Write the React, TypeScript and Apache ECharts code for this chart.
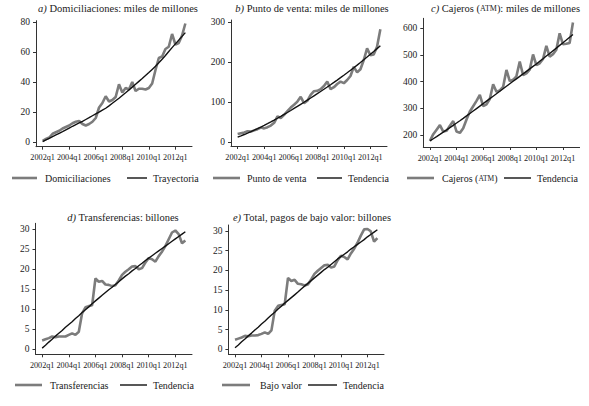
import { useEffect, useRef } from "react";
import * as echarts from "echarts";

// Quarter index 0 = 2002q1 ... 43 = 2012q4
const tickQuarters = [0, 8, 16, 24, 32, 40];
const tickLabels = ["2002q1", "2004q1", "2006q1", "2008q1", "2010q1", "2012q1"];

const domiciliaciones = [0.8, 2, 3, 5.5, 6.5, 7.5, 9, 10, 11, 12.5, 13.5, 14, 12, 11, 12, 13.5, 16, 23, 26, 30.5, 27, 28, 30, 38.5, 33, 36, 35, 40, 34, 35.5, 35.5, 35, 36, 39, 48, 56, 57, 62, 63.5, 72, 65, 66, 71, 79];
const trayectoria = [0.3, 1.4, 2.5, 3.6, 4.7, 5.8, 6.9, 8.1, 9.3, 10.5, 11.6, 12.7, 13.8, 15.0, 16.2, 17.5, 18.7, 19.9, 21.2, 22.5, 24.1, 25.8, 27.5, 29.2, 31.0, 32.8, 34.7, 36.6, 38.5, 40.4, 42.3, 44.3, 46.3, 48.4, 50.5, 52.8, 55.2, 57.7, 60.3, 62.9, 65.4, 67.9, 70.4, 72.9];

const puntoVenta = [20, 22, 24, 27, 26, 29, 32, 36, 34, 37, 41, 48, 64, 60, 68, 77, 86, 93, 101, 113, 97, 103, 118, 127, 128, 132, 140, 151, 132, 137, 145, 151, 147, 155, 165, 188, 174, 182, 205, 234, 217, 219, 238, 282];
const tendenciaVenta = [12.0, 15.3, 18.7, 22.2, 25.8, 29.5, 33.4, 37.4, 41.6, 45.9, 50.3, 54.8, 59.4, 64.1, 68.9, 73.8, 78.8, 83.9, 89.0, 94.2, 99.4, 104.7, 110.0, 115.4, 120.8, 126.3, 131.8, 137.4, 143.1, 148.9, 154.8, 160.8, 166.9, 173.1, 179.4, 185.8, 192.3, 198.9, 205.6, 212.4, 219.3, 226.3, 233.4, 240.6];

const cajeros = [178, 203, 220, 237, 213, 216, 235, 252, 213, 208, 225, 258, 288, 308, 328, 350, 308, 315, 335, 390, 362, 367, 380, 444, 402, 407, 420, 475, 425, 431, 445, 502, 462, 469, 485, 534, 494, 503, 520, 581, 540, 542, 545, 622];
const tendenciaCajeros = [178, 186, 194.1, 202.3, 210.6, 219.0, 227.5, 236.1, 244.8, 253.6, 262.5, 271.5, 280.6, 289.8, 299.0, 308.3, 317.6, 326.9, 336.2, 345.5, 354.8, 364.1, 373.4, 382.7, 392.0, 401.3, 410.6, 419.9, 429.2, 438.5, 447.8, 457.1, 466.4, 476.2, 486.0, 495.9, 505.8, 515.8, 525.8, 535.9, 546.0, 556.1, 566.3, 576.5];

const transferencias = [2.2, 2.5, 2.8, 3.2, 3.0, 3.2, 3.2, 3.2, 3.6, 4.0, 3.6, 4.4, 9.0, 10.5, 10.8, 11.0, 17.7, 16.9, 17.1, 16.2, 16.1, 15.8, 16.0, 17.2, 18.6, 19.4, 20.0, 20.7, 20.8, 20.0, 20.3, 21.7, 22.8, 22.5, 21.9, 23.3, 24.4, 25.8, 27.5, 29.2, 29.7, 28.8, 26.5, 27.2];
const tendenciaTransf = [0.3, 1.0, 1.8, 2.5, 3.3, 4.0, 4.7, 5.5, 6.2, 6.9, 7.7, 8.4, 9.2, 9.9, 10.6, 11.4, 12.1, 12.8, 13.5, 14.2, 14.9, 15.5, 16.2, 16.9, 17.6, 18.3, 18.9, 19.6, 20.2, 20.9, 21.5, 22.2, 22.8, 23.4, 24.0, 24.6, 25.2, 25.8, 26.4, 27.0, 27.6, 28.2, 28.8, 29.4];

const bajoValor = [2.4, 2.7, 3.0, 3.4, 3.3, 3.5, 3.5, 3.6, 3.9, 4.3, 3.9, 4.8, 9.8, 11.0, 11.2, 11.4, 18.1, 17.3, 17.6, 16.6, 16.5, 16.2, 16.4, 17.7, 19.1, 19.9, 20.6, 21.3, 21.4, 20.7, 21.0, 22.6, 23.7, 23.4, 22.8, 24.3, 25.5, 27.0, 28.8, 30.4, 30.5, 29.9, 27.3, 28.2];
const tendenciaBajo = [0.4, 1.1, 1.9, 2.6, 3.4, 4.1, 4.9, 5.6, 6.4, 7.1, 7.9, 8.7, 9.4, 10.2, 10.9, 11.7, 12.4, 13.1, 13.8, 14.5, 15.3, 16.0, 16.7, 17.4, 18.1, 18.8, 19.5, 20.2, 20.8, 21.5, 22.2, 22.9, 23.5, 24.1, 24.7, 25.4, 26.0, 26.6, 27.2, 27.8, 28.5, 29.1, 29.7, 30.3];

const FONT = "Liberation Serif, serif";
const GRAY = "#7c7c7c";
const BLACK = "#111111";
const AXIS = "#333333";
const TEXT = "#222222";

const panels = [
  {
    title: "{it|a)} Domiciliaciones: miles de millones", titleX: 118, titleY: 8,
    grid: { left: 36, top: 20.7, width: 156, height: 126 }, yMin: -3.13, yMax: 80.87, yTicks: [0, 20, 40, 60, 80],
    main: domiciliaciones, mainName: "Domiciliaciones", trend: trayectoria, trendName: "Trayectoria",
    legendY: 178, legend: [12, 37, 45, 127, 147, 153],
  },
  {
    title: "{it|b)} Punto de venta: miles de millones", titleX: 312, titleY: 8,
    grid: { left: 231, top: 20, width: 156, height: 126 }, yMin: -10, yMax: 305, yTicks: [0, 100, 200, 300],
    main: puntoVenta, mainName: "Punto de venta", trend: tendenciaVenta, trendName: "Tendencia",
    legendY: 178, legend: [213, 240, 247, 317, 342, 348],
  },
  {
    title: "{it|c)} Cajeros ({sc|ATM}): miles de millones", titleX: 505.5, titleY: 8,
    grid: { left: 423.3, top: 18.3, width: 156.3, height: 128.7 }, yMin: 155, yMax: 637.5, yTicks: [200, 300, 400, 500, 600],
    main: cajeros, mainName: "Cajeros ({sc|ATM})", trend: tendenciaCajeros, trendName: "Tendencia",
    legendY: 178, legend: [407, 434, 442, 504, 531, 537],
  },
  {
    title: "{it|d)} Transferencias: billones", titleX: 123, titleY: 217,
    grid: { left: 35.5, top: 223.3, width: 156.5, height: 131 }, yMin: -1.25, yMax: 31.5, yTicks: [0, 5, 10, 15, 20, 25, 30],
    main: transferencias, mainName: "Transferencias", trend: tendenciaTransf, trendName: "Tendencia",
    legendY: 385, legend: [15, 42, 50, 120, 147, 153],
  },
  {
    title: "{it|e)} Total, pagos de bajo valor: billones", titleX: 312, titleY: 217,
    grid: { left: 228.4, top: 225, width: 155.6, height: 129.3 }, yMin: -1.27, yMax: 31.5, yTicks: [0, 5, 10, 15, 20, 25, 30],
    main: bajoValor, mainName: "Bajo valor", trend: tendenciaBajo, trendName: "Tendencia",
    legendY: 385, legend: [222, 250, 260, 308, 337, 343],
  },
];

const rich = {
  it: { fontStyle: "italic", fontFamily: FONT, fontSize: 10.5, fill: TEXT },
  sc: { fontFamily: FONT, fontSize: 8, fill: TEXT },
};
const legendRich = {
  sc: { fontFamily: FONT, fontSize: 7.5, fill: TEXT },
};

export default function App() {
  const ref = useRef<HTMLDivElement>(null);
  useEffect(() => {
    if (!ref.current) return;
    const chart = echarts.init(ref.current, undefined, { renderer: "svg" });

    const grids: any[] = [];
    const xAxes: any[] = [];
    const yAxes: any[] = [];
    const series: any[] = [];
    const graphics: any[] = [];

    panels.forEach((p, i) => {
      grids.push({ ...p.grid });
      xAxes.push({
        type: "value",
        gridIndex: i,
        min: -2,
        max: 45,
        axisLine: { show: true, onZero: false, lineStyle: { color: AXIS, width: 1 } },
        axisTick: { show: true, customValues: tickQuarters, length: 3, lineStyle: { color: AXIS } },
        axisLabel: {
          customValues: tickQuarters,
          formatter: (v: number) => tickLabels[tickQuarters.indexOf(v)] ?? "",
          fontFamily: FONT,
          fontSize: 8.2,
          color: TEXT,
          margin: 7,
          hideOverlap: false,
          showMinLabel: true,
          showMaxLabel: true,
        },
        splitLine: { show: false },
      });
      yAxes.push({
        type: "value",
        gridIndex: i,
        min: p.yMin,
        max: p.yMax,
        axisLine: { show: true, onZero: false, lineStyle: { color: AXIS, width: 1 } },
        axisTick: { show: true, customValues: p.yTicks, length: 3, lineStyle: { color: AXIS } },
        axisLabel: {
          customValues: p.yTicks,
          fontFamily: FONT,
          fontSize: 9.5,
          color: TEXT,
          margin: 6,
          hideOverlap: false,
          showMinLabel: true,
          showMaxLabel: true,
        },
        splitLine: { show: false },
      });
      series.push({
        type: "line",
        name: p.mainName,
        xAxisIndex: i,
        yAxisIndex: i,
        data: p.main.map((v, q) => [q, v]),
        symbol: "none",
        showSymbol: false,
        lineStyle: { color: GRAY, width: 2.6 },
        z: 2,
      });
      series.push({
        type: "line",
        name: p.trendName,
        xAxisIndex: i,
        yAxisIndex: i,
        data: p.trend.map((v, q) => [q, v]),
        symbol: "none",
        showSymbol: false,
        lineStyle: { color: BLACK, width: 1.4 },
        z: 3,
      });

      graphics.push({
        type: "text",
        x: p.titleX,
        y: p.titleY,
        style: {
          text: p.title,
          fontFamily: FONT,
          fontSize: 10.5,
          fill: TEXT,
          align: "center",
          verticalAlign: "middle",
          rich,
        },
      });
      const [g1, g2, gt, b1, b2, bt] = p.legend;
      const ly = p.legendY;
      graphics.push({
        type: "line",
        shape: { x1: g1, y1: ly, x2: g2, y2: ly },
        style: { stroke: GRAY, lineWidth: 2.6 },
      });
      graphics.push({
        type: "text",
        x: gt,
        y: ly,
        style: {
          text: p.mainName,
          fontFamily: FONT,
          fontSize: 10,
          fill: TEXT,
          align: "left",
          verticalAlign: "middle",
          rich: legendRich,
        },
      });
      graphics.push({
        type: "line",
        shape: { x1: b1, y1: ly, x2: b2, y2: ly },
        style: { stroke: BLACK, lineWidth: 1.4 },
      });
      graphics.push({
        type: "text",
        x: bt,
        y: ly,
        style: {
          text: p.trendName,
          fontFamily: FONT,
          fontSize: 10,
          fill: TEXT,
          align: "left",
          verticalAlign: "middle",
        },
      });
    });

    chart.setOption({
      animation: false,
      backgroundColor: "#ffffff",
      grid: grids,
      xAxis: xAxes,
      yAxis: yAxes,
      series,
      graphic: graphics,
    });
    return () => chart.dispose();
  }, []);

  return (
    <div
      ref={ref}
      style={{ position: "absolute", left: 0, top: 0, width: 589, height: 406 }}
    />
  );
}
